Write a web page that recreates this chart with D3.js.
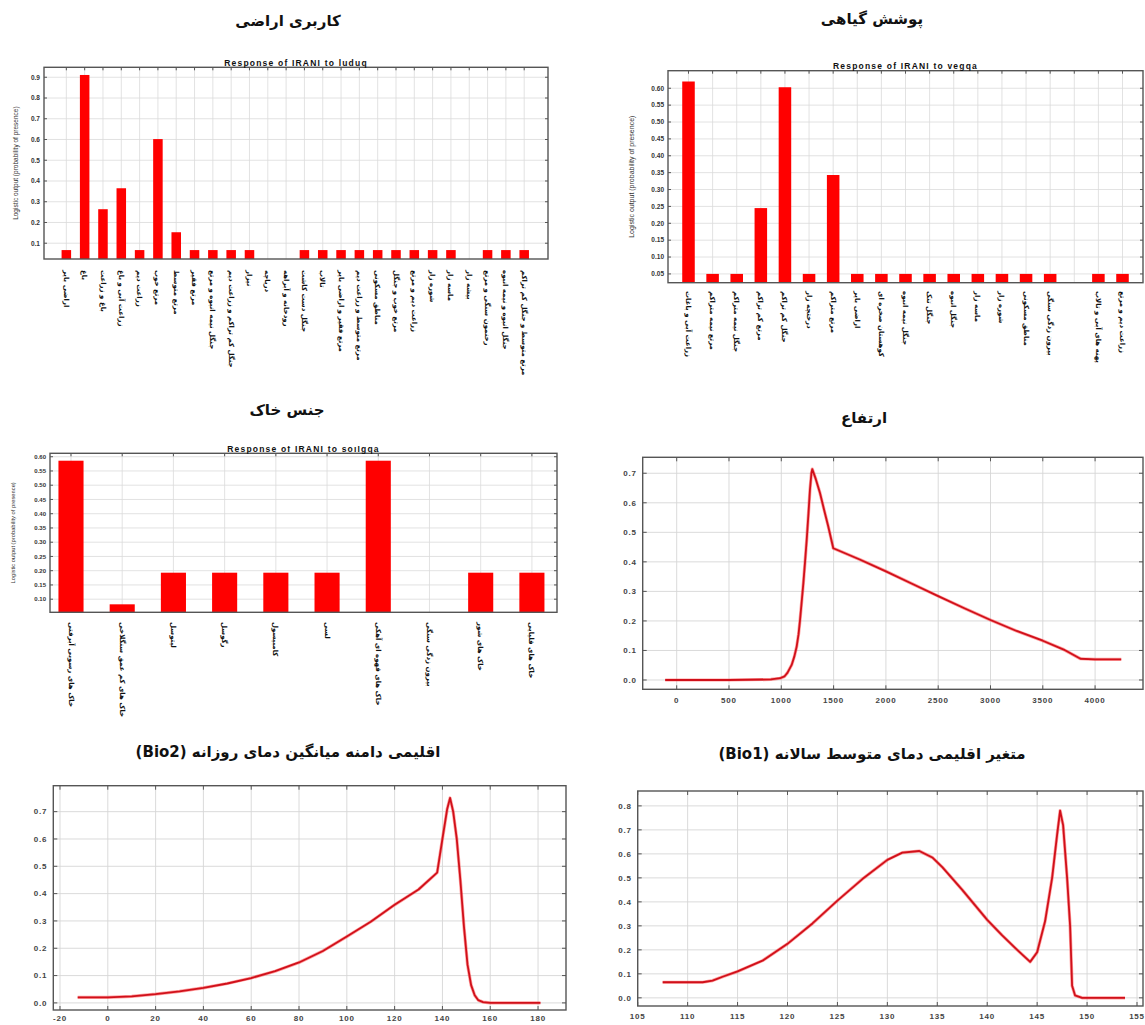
<!DOCTYPE html>
<html>
<head>
<meta charset="utf-8">
<script src="https://cdn.jsdelivr.net/npm/d3@7"></script>
<style>
  body { margin: 0; background: #fff; }
  svg { display: block; }
</style>
</head>
<body>
<script>
// ---- land use (کاربری اراضی) ----
var landuseLabels = [
  "اراضی بایر", "باغ", "باغ و زراعت", "زراعت آبی و باغ", "زراعت دیم",
  "مرتع خوب", "مرتع متوسط", "مرتع فقیر", "جنگل نیمه انبوه و مرتع",
  "جنگل کم تراکم و زراعت دیم", "نیزار", "دریاچه", "رودخانه و آبراهه",
  "جنگل دست کاشت", "تالاب", "مرتع فقیر و اراضی بایر", "مرتع متوسط و زراعت دیم",
  "مناطق مسکونی", "مرتع خوب و جنگل", "زراعت دیم و مرتع", "شوره زار",
  "ماسه زار", "بیشه زار", "رخنمون سنگی و مرتع", "جنگل انبوه و نیمه انبوه",
  "مرتع متوسط و جنگل کم تراکم"
];
var landuseValues = [0.067, 0.911, 0.264, 0.365, 0.067, 0.602, 0.153, 0.067, 0.067, 0.067,
  0.067, null, null, 0.067, 0.067, 0.067, 0.067, 0.067, 0.067, 0.067,
  0.067, 0.067, null, 0.067, 0.067, 0.067];
var landuseTicks = [0.1, 0.2, 0.3, 0.4, 0.5, 0.6, 0.7, 0.8, 0.9];

// ---- vegetation (پوشش گیاهی) ----
var vegLabels = [
  "زراعت آبی و باغات", "مرتع نیمه متراکم", "جنگل نیمه متراکم", "مرتع کم تراکم",
  "جنگل کم تراکم", "درختچه زار", "مرتع متراکم", "اراضی بایر", "کوهستان صخره ای",
  "جنگل نیمه انبوه", "جنگل تنک", "جنگل انبوه", "ماسه زار", "شوره زار",
  "مناطق مسکونی", "بیرون زدگی سنگی", "", "پهنه های آبی و تالاب", "زراعت دیم و مرتع"
];
var vegValues = [0.62, 0.05, 0.05, 0.245, 0.603, 0.05, 0.343, 0.05, 0.05, 0.05,
  0.05, 0.05, 0.05, 0.05, 0.05, 0.05, null, 0.05, 0.05];
var vegTicks = [0.05, 0.10, 0.15, 0.20, 0.25, 0.30, 0.35, 0.40, 0.45, 0.50, 0.55, 0.60];

// ---- soil (جنس خاک) ----
var soilLabels = [
  "خاک های رسوبی آبرفتی", "خاک های کم عمق سنگلاخی", "لیتوسل", "رگوسل",
  "کامبیسول", "لسی", "خاک های قهوه ای آهکی", "بیرون زدگی سنگی",
  "خاک های شور", "خاک های قلیایی"
];
var soilValues = [0.586, 0.082, 0.193, 0.193, 0.193, 0.193, 0.586, null, 0.193, 0.193];
var soilTicks = [0.10, 0.15, 0.20, 0.25, 0.30, 0.35, 0.40, 0.45, 0.50, 0.55, 0.60];

// ---- elevation (ارتفاع) ----
var elevX = [-110, 0, 500, 900, 988, 1030, 1060, 1099, 1125, 1147, 1165, 1179, 1195, 1211,
  1227, 1243, 1260, 1274, 1288, 1296, 1330, 1370, 1410, 1449, 1497, 1750, 2000, 2250,
  2500, 2750, 3000, 3250, 3500, 3700, 3860, 4000, 4250];
var elevY = [0.0, 0.0, 0.0, 0.002, 0.006, 0.012, 0.025, 0.051, 0.08, 0.113, 0.155, 0.203,
  0.265, 0.328, 0.40, 0.475, 0.565, 0.644, 0.70, 0.714, 0.68, 0.633, 0.575, 0.52, 0.446,
  0.408, 0.368, 0.326, 0.284, 0.243, 0.203, 0.166, 0.133, 0.103, 0.072, 0.07, 0.07];
var elevXTicks = [0, 500, 1000, 1500, 2000, 2500, 3000, 3500, 4000];
var elevYTicks = [0.0, 0.1, 0.2, 0.3, 0.4, 0.5, 0.6, 0.7];

// ---- Bio2 ----
var bio2X = [-12.6, 0, 10, 20, 30, 40, 50, 60, 70, 80, 90, 100, 110, 120, 130, 137.8,
  140, 142, 143.2, 144.5, 146, 147.5, 149, 150.5, 152, 153.5, 155, 157, 160, 181];
var bio2Y = [0.02, 0.02, 0.024, 0.032, 0.042, 0.055, 0.071, 0.091, 0.116, 0.148, 0.19, 0.243,
  0.297, 0.359, 0.415, 0.477, 0.60, 0.71, 0.75, 0.70, 0.60, 0.45, 0.28, 0.14, 0.065, 0.028,
  0.01, 0.003, 0.0, 0.0];
var bio2XTicks = [-20, 0, 20, 40, 60, 80, 100, 120, 140, 160, 180];
var bio2YTicks = [0.0, 0.1, 0.2, 0.3, 0.4, 0.5, 0.6, 0.7];

// ---- Bio1 ----
var bio1X = [107.5, 111.5, 112.5, 113.5, 115, 117.5, 120, 122.5, 125, 127.5, 130, 131.5, 133.2,
  134.5, 135.5, 137.5, 140, 141.5, 143, 144.3, 145, 145.8, 146.5, 147.0, 147.3, 147.6, 148.0,
  148.3, 148.5, 148.8, 149.5, 153.8];
var bio1Y = [0.065, 0.065, 0.072, 0.088, 0.11, 0.155, 0.225, 0.31, 0.405, 0.495, 0.575, 0.605,
  0.612, 0.585, 0.545, 0.45, 0.325, 0.26, 0.2, 0.15, 0.19, 0.32, 0.5, 0.68, 0.78, 0.72, 0.5,
  0.3, 0.05, 0.01, 0.0, 0.0];
var bio1XTicks = [105, 110, 115, 120, 125, 130, 135, 140, 145, 150, 155];
var bio1YTicks = [0.0, 0.1, 0.2, 0.3, 0.4, 0.5, 0.6, 0.7, 0.8];

var svg = d3.select("body").append("svg")
  .attr("width", 1145).attr("height", 1025);

var faFont = "'DejaVu Sans', 'Noto Sans', sans-serif";
var enFont = "'Liberation Sans', Arial, sans-serif";

function title(text, x, y) {
  svg.append("text")
    .attr("x", x).attr("y", y)
    .attr("text-anchor", "middle")
    .attr("direction", "rtl")
    .style("font-family", faFont)
    .style("font-size", "15px")
    .style("font-weight", "bold")
    .attr("fill", "#111")
    .text(text);
}

// bar panel for categorical variables
function barPanel(p) {
  var g = svg.append("g");
  var x = d3.scaleLinear().domain(p.xDomain).range([p.left, p.right]);
  var y = d3.scaleLinear().domain(p.yDomain).range([p.bottom, p.top]);
  var bw = (x(1) - x(0)) * p.barFrac;
  var idx = d3.range(p.labels.length);

  // grid
  g.selectAll(".hg").data(p.yTicks).enter().append("line")
    .attr("x1", p.left).attr("x2", p.right)
    .attr("y1", d => y(d)).attr("y2", d => y(d))
    .attr("stroke", "#dadada").attr("stroke-width", 0.8);
  g.selectAll(".vg").data(idx).enter().append("line")
    .attr("x1", d => x(d)).attr("x2", d => x(d))
    .attr("y1", p.top).attr("y2", p.bottom)
    .attr("stroke", "#dadada").attr("stroke-width", 0.8);

  // bars
  var bars = p.values.map((v, i) => ({v: v, i: i})).filter(d => d.v != null);
  g.selectAll(".bar").data(bars).enter().append("rect")
    .attr("x", d => x(d.i) - bw / 2)
    .attr("width", bw)
    .attr("y", d => y(d.v))
    .attr("height", d => p.bottom - y(d.v))
    .attr("fill", "#ff0000");

  // frame
  g.append("rect")
    .attr("x", p.left).attr("y", p.top)
    .attr("width", p.right - p.left).attr("height", p.bottom - p.top)
    .attr("fill", "none").attr("stroke", "#555").attr("stroke-width", 1.4);

  // inward ticks
  g.selectAll(".tt").data(idx).enter().append("line")
    .attr("x1", d => x(d)).attr("x2", d => x(d))
    .attr("y1", p.top).attr("y2", p.top + 3)
    .attr("stroke", "#555");
  g.selectAll(".lt").data(p.yTicks).enter().append("line")
    .attr("x1", p.left).attr("x2", p.left + 3)
    .attr("y1", d => y(d)).attr("y2", d => y(d)).attr("stroke", "#555");
  g.selectAll(".rt").data(p.yTicks).enter().append("line")
    .attr("x1", p.right).attr("x2", p.right - 3)
    .attr("y1", d => y(d)).attr("y2", d => y(d)).attr("stroke", "#555");

  // y tick labels
  g.selectAll(".yl").data(p.yTicks).enter().append("text")
    .attr("x", p.left - 4).attr("y", d => y(d))
    .attr("dy", "0.35em")
    .attr("text-anchor", "end")
    .style("font-family", enFont)
    .style("font-size", p.tickSize + "px")
    .style("font-weight", "bold")
    .attr("fill", "#333")
    .text(d => d3.format(p.yFmt)(d));

  // category labels, rotated
  g.selectAll(".cl").data(idx).enter().append("text")
    .attr("transform", d => "translate(" + x(d) + "," + p.labelTop + ") rotate(90)")
    .attr("dy", "0.35em")
    .attr("text-anchor", "start")
    .style("font-family", faFont)
    .style("font-size", "7px")
    .style("font-weight", "bold")
    .attr("fill", "#111")
    .text(d => p.labels[d]);

  // y axis title
  g.append("text")
    .attr("transform", "translate(" + p.ylabelX + "," + (p.top + p.bottom) / 2 + ") rotate(-90)")
    .attr("text-anchor", "middle")
    .style("font-family", enFont)
    .style("font-size", p.ylabelSize + "px")
    .attr("fill", "#333")
    .text("Logistic output (probability of presence)");

  // subtitle
  var sub = g.append("text")
    .attr("x", (p.left + p.right) / 2).attr("y", p.subY)
    .attr("text-anchor", "middle")
    .style("font-family", enFont)
    .style("font-size", "8.5px")
    .style("font-weight", "bold")
    .style("letter-spacing", "1.2px")
    .attr("fill", "#111")
    .text(p.subtitle);
  if (p.subClip) {
    svg.append("clipPath").attr("id", "subclip")
      .append("rect").attr("x", 0).attr("y", p.subClip).attr("width", 1145).attr("height", 100);
    sub.attr("clip-path", "url(#subclip)");
  }
}

// line panel for continuous variables
function linePanel(p) {
  var g = svg.append("g");
  var x = d3.scaleLinear().domain(p.xDomain).range([p.left, p.right]);
  var y = d3.scaleLinear().domain(p.yDomain).range([p.bottom, p.top]);

  g.selectAll(".hg").data(p.yTicks).enter().append("line")
    .attr("x1", p.left).attr("x2", p.right)
    .attr("y1", d => y(d)).attr("y2", d => y(d))
    .attr("stroke", "#d6d6d6").attr("stroke-width", 0.9);
  g.selectAll(".vg").data(p.xTicks).enter().append("line")
    .attr("x1", d => x(d)).attr("x2", d => x(d))
    .attr("y1", p.top).attr("y2", p.bottom)
    .attr("stroke", "#d6d6d6").attr("stroke-width", 0.9);

  var pts = p.xs.map((v, i) => [v, p.ys[i]]);
  var line = d3.line().x(d => x(d[0])).y(d => y(d[1]));
  g.append("path")
    .datum(pts)
    .attr("fill", "none")
    .attr("stroke", "#ff4040").attr("stroke-opacity", 0.5)
    .attr("stroke-width", 3.2)
    .attr("stroke-linejoin", "round")
    .attr("d", line);
  g.append("path")
    .datum(pts)
    .attr("fill", "none")
    .attr("stroke", "#d0101a")
    .attr("stroke-width", 1.8)
    .attr("stroke-linejoin", "round")
    .attr("d", line);

  g.append("rect")
    .attr("x", p.left).attr("y", p.top)
    .attr("width", p.right - p.left).attr("height", p.bottom - p.top)
    .attr("fill", "none").attr("stroke", "#555").attr("stroke-width", 1.4);

  g.selectAll(".tt").data(p.xTicks).enter().append("line")
    .attr("x1", d => x(d)).attr("x2", d => x(d))
    .attr("y1", p.top).attr("y2", p.top + 4).attr("stroke", "#555");
  g.selectAll(".bt").data(p.xTicks).enter().append("line")
    .attr("x1", d => x(d)).attr("x2", d => x(d))
    .attr("y1", p.bottom).attr("y2", p.bottom - 4).attr("stroke", "#555");
  g.selectAll(".lt").data(p.yTicks).enter().append("line")
    .attr("x1", p.left).attr("x2", p.left + 4)
    .attr("y1", d => y(d)).attr("y2", d => y(d)).attr("stroke", "#555");
  g.selectAll(".rt").data(p.yTicks).enter().append("line")
    .attr("x1", p.right).attr("x2", p.right - 4)
    .attr("y1", d => y(d)).attr("y2", d => y(d)).attr("stroke", "#555");

  g.selectAll(".yl").data(p.yTicks).enter().append("text")
    .attr("x", p.left - 6).attr("y", d => y(d))
    .attr("dy", "0.35em")
    .attr("text-anchor", "end")
    .style("font-family", enFont)
    .style("font-size", "8px")
    .style("font-weight", "bold")
    .style("letter-spacing", "0.8px")
    .attr("fill", "#444")
    .text(d => d3.format(".1f")(d));
  g.selectAll(".xl").data(p.xTicks).enter().append("text")
    .attr("x", d => x(d)).attr("y", p.bottom + p.xlabOff)
    .attr("text-anchor", "middle")
    .style("font-family", enFont)
    .style("font-size", "8px")
    .style("font-weight", "bold")
    .style("letter-spacing", "0.8px")
    .attr("fill", "#444")
    .text(d => d);
}

// top-left
title("کاربری اراضی", 288, 26);
barPanel({
  labels: landuseLabels, values: landuseValues, yTicks: landuseTicks, yFmt: ".1f",
  left: 44, right: 548, top: 67.3, bottom: 259,
  xDomain: [-1.22, 26.3], yDomain: [0.024, 0.948], barFrac: 0.52,
  labelTop: 270, ylabelX: 18, ylabelSize: 6.5, tickSize: 6.5,
  subtitle: "Response of IRANI to luduq", subY: 65.5
});

// top-right
title("پوشش گیاهی", 872, 24);
barPanel({
  labels: vegLabels, values: vegValues, yTicks: vegTicks, yFmt: ".2f",
  left: 668, right: 1143, top: 70.7, bottom: 282.7,
  xDomain: [-0.85, 18.85], yDomain: [0.024, 0.652], barFrac: 0.52,
  labelTop: 291, ylabelX: 634, ylabelSize: 7, tickSize: 6.5,
  subtitle: "Response of IRANI to vegqa", subY: 69
});

// middle-left
title("جنس خاک", 287, 415);
barPanel({
  labels: soilLabels, values: soilValues, yTicks: soilTicks, yFmt: ".2f",
  left: 50, right: 557, top: 453.3, bottom: 612.3,
  xDomain: [-0.41, 9.49], yDomain: [0.054, 0.612], barFrac: 0.49,
  labelTop: 622, ylabelX: 15, ylabelSize: 5.8, tickSize: 6,
  subtitle: "Response of IRANI to soilgqa", subY: 452, subClip: 446
});

// middle-right
title("ارتفاع", 864, 423);
linePanel({
  xs: elevX, ys: elevY, xTicks: elevXTicks, yTicks: elevYTicks,
  left: 642.7, right: 1143, top: 457.3, bottom: 689.3,
  xDomain: [-325, 4458], yDomain: [-0.0315, 0.754], xlabOff: 14
});

// bottom-left
title("اقلیمی دامنه میانگین دمای روزانه (Bio2)", 288, 757);
linePanel({
  xs: bio2X, ys: bio2Y, xTicks: bio2XTicks, yTicks: bio2YTicks,
  left: 53.3, right: 566, top: 785.7, bottom: 1010,
  xDomain: [-22.8, 191.7], yDomain: [-0.026, 0.795], xlabOff: 11
});

// bottom-right
title("متغیر اقلیمی دمای متوسط سالانه (Bio1)", 872, 759);
linePanel({
  xs: bio1X, ys: bio1Y, xTicks: bio1XTicks, yTicks: bio1YTicks,
  left: 637.7, right: 1143, top: 791, bottom: 1006,
  xDomain: [105, 155.6], yDomain: [-0.034, 0.862], xlabOff: 13
});
</script>
</body>
</html>
